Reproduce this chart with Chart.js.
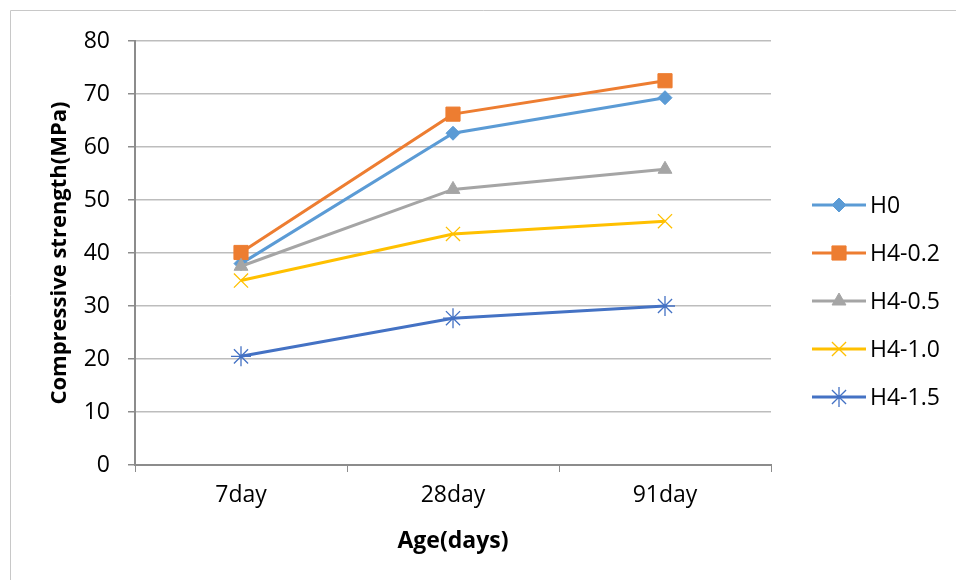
<!DOCTYPE html>
<html>
<head>
<meta charset="utf-8">
<script src="https://cdn.jsdelivr.net/npm/chart.js@4/dist/chart.umd.min.js"></script>
<style>
  html, body { margin: 0; padding: 0; background: #fff; }
  #wrap { position: relative; width: 956px; height: 580px; }
</style>
</head>
<body>
<div id="wrap"><canvas id="c" width="956" height="580"></canvas></div>
<script>
// Curing ages on the category axis
const ages = ['7day', '28day', '91day'];

// Compressive strength (MPa) for each mix
const seriesNames = ['H0', 'H4-0.2', 'H4-0.5', 'H4-1.0', 'H4-1.5'];
const h0   = [38.0, 62.6, 69.3];
const h402 = [40.1, 66.2, 72.5];
const h405 = [37.5, 52.0, 55.8];
const h410 = [34.8, 43.6, 46.0];
const h415 = [20.5, 27.7, 30.0];

// Value axis ticks
const yTicks = [0, 10, 20, 30, 40, 50, 60, 70, 80];

const FONT = "'Open Sans', 'Liberation Sans', sans-serif";
const AXIS = '#8c8c8c';
const GRID = '#bdbdbd';

const styles = [
  { color: '#5B9BD5', point: 'rectRot',  radius: 7,  thin: false },
  { color: '#ED7D31', point: 'rect',     radius: 10, thin: false },
  { color: '#A5A5A5', point: 'triangle', radius: 8,  thin: false },
  { color: '#FFC000', point: 'crossRot', radius: 10, thin: true  },
  { color: '#4472C4', point: 'star',     radius: 10, thin: true  }
];
const values = [h0, h402, h405, h410, h415];

const datasets = values.map((v, i) => ({
  label: seriesNames[i],
  data: v,
  borderColor: styles[i].color,
  backgroundColor: styles[i].color,
  borderWidth: 3,
  pointStyle: styles[i].point,
  pointRadius: styles[i].radius,
  pointHoverRadius: styles[i].radius,
  pointBorderWidth: styles[i].thin ? 1.3 : 1,
  pointBorderColor: styles[i].color,
  pointBackgroundColor: styles[i].color,
  tension: 0,
  order: values.length - i
}));

// Outer frame lines (left and top edges)
const framePlugin = {
  id: 'frame',
  beforeDraw(chart) {
    const ctx = chart.ctx;
    ctx.save();
    ctx.strokeStyle = '#c8c8c8';
    ctx.lineWidth = 1;
    ctx.beginPath();
    ctx.moveTo(10.5, chart.height);
    ctx.lineTo(10.5, 10.5);
    ctx.lineTo(chart.width, 10.5);
    ctx.stroke();
    ctx.restore();
  }
};

// Right-hand legend: line sample with marker, then series name
const legendPlugin = {
  id: 'sideLegend',
  afterDraw(chart) {
    const ctx = chart.ctx;
    const area = chart.chartArea;
    const x0 = area.right + 41;
    const len = 54;
    ctx.save();
    chart.data.datasets.forEach((ds, i) => {
      const y = 205 + i * 48;
      ctx.strokeStyle = ds.borderColor;
      ctx.lineWidth = 3;
      ctx.beginPath();
      ctx.moveTo(x0, y);
      ctx.lineTo(x0 + len, y);
      ctx.stroke();
      ctx.fillStyle = ds.pointBackgroundColor;
      ctx.strokeStyle = ds.pointBorderColor;
      ctx.lineWidth = ds.pointBorderWidth;
      Chart.helpers.drawPoint(ctx, {
        pointStyle: ds.pointStyle,
        radius: ds.pointRadius,
        rotation: 0,
        borderWidth: ds.pointBorderWidth
      }, x0 + len / 2, y);
      ctx.fillStyle = '#000';
      ctx.font = '23px ' + FONT;
      ctx.textAlign = 'left';
      ctx.textBaseline = 'middle';
      ctx.fillText(ds.label, x0 + len + 4, y + 1);
    });
    ctx.restore();
  }
};

new Chart(document.getElementById('c'), {
  type: 'line',
  data: { labels: ages, datasets },
  plugins: [framePlugin, legendPlugin],
  options: {
    responsive: false,
    animation: false,
    layout: { padding: { top: 41, right: 185, left: 0, bottom: 0 } },
    plugins: { legend: { display: false }, tooltip: { enabled: false } },
    scales: {
      x: {
        type: 'category',
        offset: true,
        grid: {
          display: true,
          offset: true,
          drawOnChartArea: false,
          drawTicks: true,
          tickLength: 7,
          tickColor: AXIS,
          color: AXIS
        },
        border: { color: AXIS, width: 2 },
        ticks: { color: '#000', font: { family: FONT, size: 23 }, padding: 10 },
        title: {
          display: true,
          text: 'Age(days)',
          color: '#000',
          font: { family: FONT, size: 23, weight: 'bold' },
          padding: { top: 0, bottom: 25 }
        },
        afterFit(scale) { scale.height = 115; }
      },
      y: {
        min: 0,
        max: 80,
        afterBuildTicks(scale) { scale.ticks = yTicks.map(v => ({ value: v })); },
        grid: {
          color: GRID,
          lineWidth: 1.5,
          drawTicks: true,
          tickLength: 7,
          tickColor: AXIS
        },
        border: { color: AXIS, width: 2 },
        ticks: { color: '#000', font: { family: FONT, size: 23 }, padding: 18 },
        title: {
          display: true,
          text: 'Compressive strength(MPa)',
          color: '#000',
          font: { family: FONT, size: 22, weight: 'bold' },
          padding: { top: 47, bottom: 0 }
        },
        afterFit(scale) { scale.width = 135; }
      }
    }
  }
});
</script>
</body>
</html>
